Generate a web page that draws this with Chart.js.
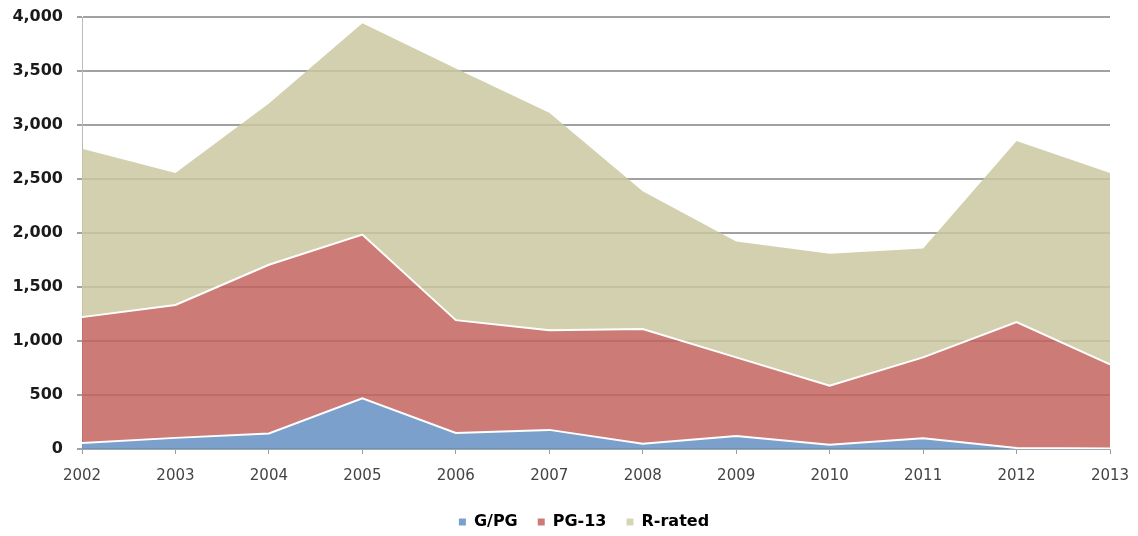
<!DOCTYPE html>
<html>
<head>
<meta charset="utf-8">
<script src="https://cdn.jsdelivr.net/npm/chart.js@4.4.1/dist/chart.umd.min.js"></script>
<style>
  html, body { margin: 0; padding: 0; background: #fff; }
  #wrap { width: 1138px; height: 536px; position: relative; }
</style>
</head>
<body>
<div id="wrap"><canvas id="chart"></canvas></div>
<script>
// data (per-rating counts, stacked)
const years = ['2002','2003','2004','2005','2006','2007','2008','2009','2010','2011','2012','2013'];
const gpg   = [56, 103, 143, 469, 149, 177, 49, 121, 40, 100, 10, 5];
const pg13  = [1165, 1230, 1563, 1517, 1044, 923, 1061, 727, 547, 748, 1165, 778];
const rRated = [1558, 1222, 1492, 1955, 2331, 2014, 1277, 1073, 1222, 1008, 1678, 1772];
const yTicks = [0, 500, 1000, 1500, 2000, 2500, 3000, 3500, 4000];

const gridGray = 'rgba(130,130,130,0.75)';

// the legend in the picture is centred under the plot, not under the canvas,
// and sits a little higher than chart.js puts it
const legendShift = {
  id: 'legendShift',
  afterLayout(chart) {
    const lg = chart.legend;
    const dx = (chart.chartArea.left + chart.chartArea.right) / 2 - (lg.left + lg.right) / 2 - 12;
    lg.left += dx;
    lg.right += dx;
    lg.top -= 4;
    lg.bottom -= 4;
  }
};

new Chart(document.getElementById('chart').getContext('2d'), {
  type: 'line',
  data: {
    labels: years,
    datasets: [
      {
        label: 'G/PG',
        data: gpg,
        fill: 'origin',
        backgroundColor: 'rgba(100,143,195,0.85)',
        borderColor: '#ffffff',
        borderWidth: 2,
        pointRadius: 0,
        tension: 0
      },
      {
        label: 'PG-13',
        data: pg13,
        fill: '-1',
        backgroundColor: 'rgba(196,100,94,0.85)',
        borderColor: '#ffffff',
        borderWidth: 2,
        pointRadius: 0,
        tension: 0
      },
      {
        label: 'R-rated',
        data: rRated,
        fill: '-1',
        backgroundColor: 'rgba(202,200,160,0.85)',
        borderColor: 'rgba(202,200,160,0.85)',
        borderWidth: 0,
        pointRadius: 0,
        tension: 0
      }
    ]
  },
  options: {
    animation: false,
    responsive: true,
    maintainAspectRatio: false,
    layout: { padding: { left: 0, right: 28, top: 17, bottom: -8 } },
    scales: {
      x: {
        offset: false,
        afterFit: s => { s.paddingLeft = 0; s.paddingRight = 0; },
        border: { display: true, color: 'rgba(160,170,180,0.8)', width: 1 },
        grid: { drawOnChartArea: false, drawTicks: true, tickLength: 5, color: 'rgba(130,130,130,0.8)' },
        ticks: {
          color: '#444',
          font: { family: 'DejaVu Sans', size: 15 },
          padding: 13,
          maxRotation: 0,
          autoSkip: false
        }
      },
      y: {
        stacked: true,
        min: 0,
        max: 4000,
        afterFit: s => { s.width = 82; s.paddingTop = 0; s.paddingBottom = 0; },
        afterBuildTicks: s => { s.ticks = yTicks.map(v => ({ value: v })); },
        border: { display: true, color: 'rgba(170,170,170,0.8)', width: 1 },
        grid: { color: gridGray, lineWidth: 2, tickLength: 5 },
        ticks: {
          color: '#1a1a1a',
          font: { family: 'DejaVu Sans', size: 16, weight: 'bold' },
          padding: 14,
          callback: v => v.toLocaleString('en-US')
        }
      }
    },
    plugins: {
      legend: {
        position: 'bottom',
        labels: {
          color: '#1a1a1a',
          font: { family: 'DejaVu Sans', size: 16, weight: 'bold' },
          boxWidth: 7,
          boxHeight: 7,
          padding: 20,
          generateLabels: chart => chart.data.datasets.map((ds, i) => ({
            text: ds.label,
            fillStyle: ['#7ba0cc', '#cd7b76', '#d6d4b6'][i],
            strokeStyle: 'rgba(0,0,0,0)',
            lineWidth: 0,
            datasetIndex: i
          }))
        }
      },
      tooltip: { enabled: false }
    }
  },
  plugins: [legendShift]
});
</script>
</body>
</html>
